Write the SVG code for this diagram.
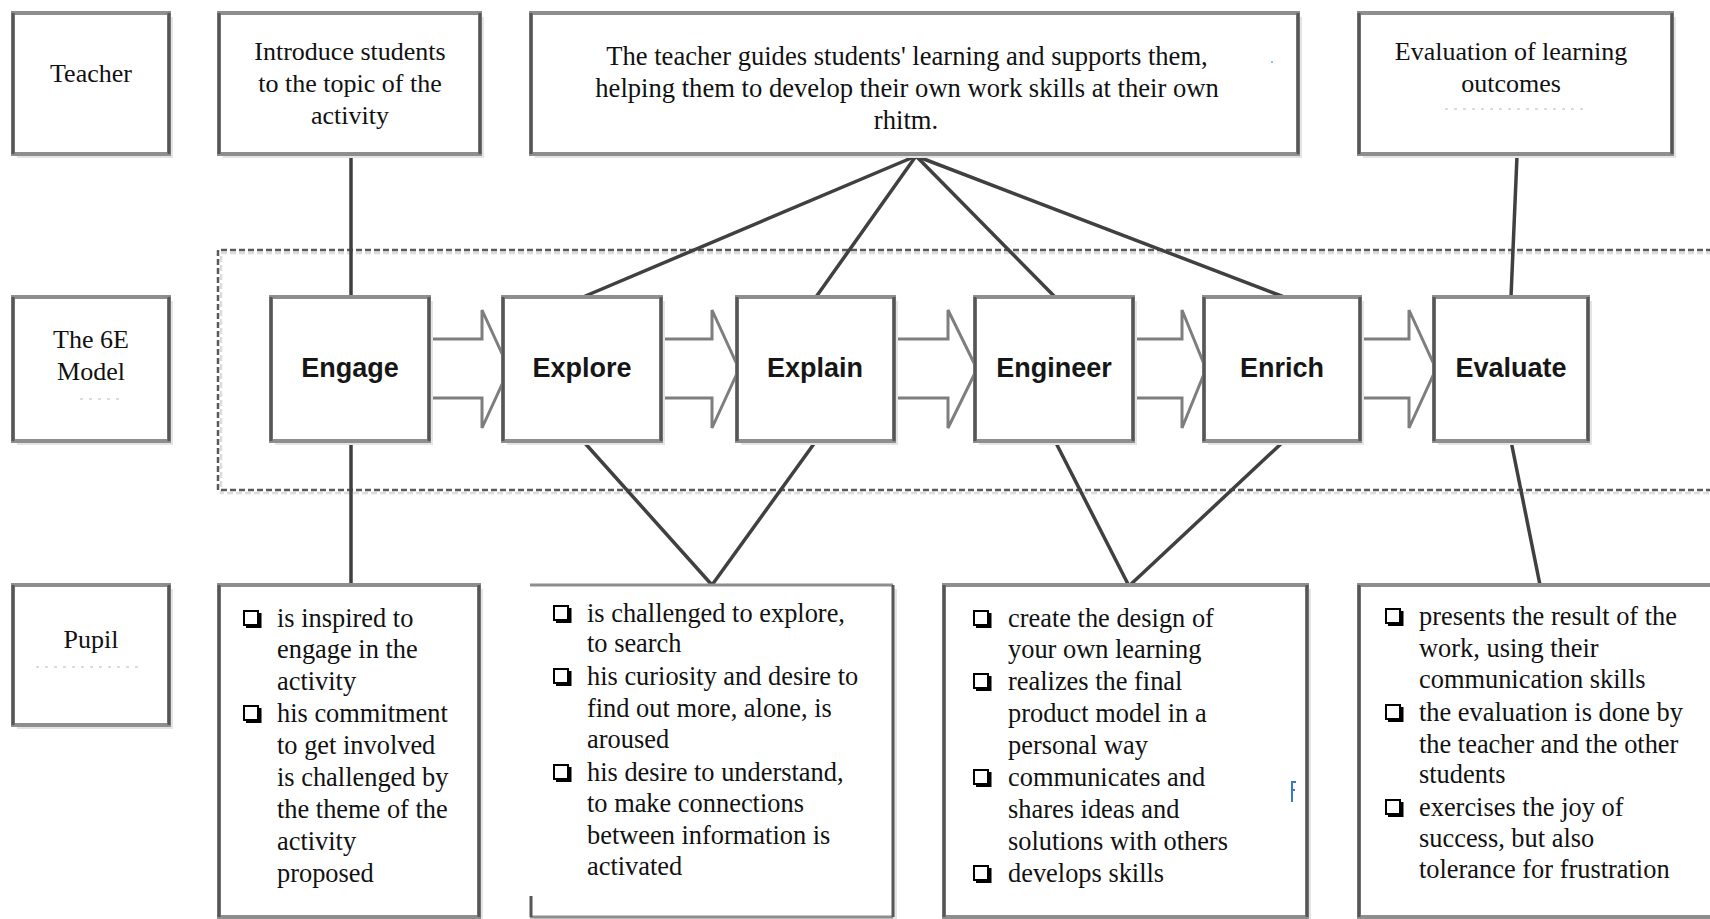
<svg xmlns="http://www.w3.org/2000/svg" width="1710" height="919" viewBox="0 0 1710 919">
  <style>
    .shadow { fill: #e4e4e4; }
    .box { fill: #ffffff; stroke: #8e8e8e; stroke-width: 4; }
    .side { stroke: #565656; stroke-width: 3; fill: none; }
    .txt { font-family: "Liberation Serif", "Times New Roman", serif; font-size: 26px; fill: #111; }
    .list { font-size: 26.4px; }
    .wide { font-size: 26.6px; }
    .mid { text-anchor: middle; }
    .stage { font-family: "Liberation Sans", Arial, sans-serif; font-weight: bold; font-size: 27px; fill: #161616; text-anchor: middle; }
    .link { stroke: #404040; stroke-width: 3.5; fill: none; stroke-linecap: butt; }
    .flow { fill: #ffffff; stroke: #7e7e7e; stroke-width: 3; stroke-linejoin: miter; }
    .frame { fill: none; stroke: #5a5a5a; stroke-width: 2.5; stroke-dasharray: 6 3; }
    .frame-shade { fill: none; stroke: #dcdcdc; stroke-width: 2.5; stroke-dasharray: 6 3; }
    .speck { stroke: #d9d0c6; stroke-width: 1.5; stroke-dasharray: 3 6; fill: none; }
  </style>
  <defs>
    <!-- square bullet with a heavier lower-right edge -->
    <symbol id="bullet" viewBox="0 0 19 18" width="19" height="18">
      <rect x="1" y="1" width="14" height="14" fill="none" stroke="#000" stroke-width="2"/>
      <path d="M17 3 V17 H3" fill="none" stroke="#000" stroke-width="3"/>
    </symbol>
  </defs>

  <rect width="1710" height="919" fill="#ffffff"/>

  <!-- dashed frame around the model stages -->
  <g id="model-frame">
    <path class="frame-shade" d="M1712 253 H221 V493 H1712"/>
    <path class="frame" d="M1712 250 H218 V490 H1712"/>
  </g>

  <!-- connectors -->
  <g id="connectors">
    <line class="link" x1="351" y1="156" x2="351" y2="297"/>
    <line class="link" x1="351" y1="441" x2="351" y2="585"/>
    <line class="link" x1="916" y1="156" x2="583" y2="297"/>
    <line class="link" x1="916" y1="156" x2="816" y2="297"/>
    <line class="link" x1="916" y1="156" x2="1055" y2="297"/>
    <line class="link" x1="916" y1="156" x2="1284" y2="297"/>
    <line class="link" x1="1517" y1="156" x2="1511" y2="297"/>
    <line class="link" x1="583" y1="441" x2="712" y2="585"/>
    <line class="link" x1="816" y1="441" x2="712" y2="585"/>
    <line class="link" x1="1055" y1="441" x2="1129" y2="586"/>
    <line class="link" x1="1284" y1="441" x2="1129" y2="586"/>
    <line class="link" x1="1511" y1="441" x2="1540" y2="585"/>
    <!-- block arrows between stages -->
    <path class="flow" d="M429 339 H482 V310 L509 369 L482 428 V398 H429"/>
    <path class="flow" d="M661 339 H712 V310 L739 369 L712 428 V398 H661"/>
    <path class="flow" d="M894 339 H948 V310 L977 369 L948 428 V398 H894"/>
    <path class="flow" d="M1133 339 H1182 V310 L1206 369 L1182 428 V398 H1133"/>
    <path class="flow" d="M1360 339 H1409 V310 L1436 369 L1409 428 V398 H1360"/>
  </g>

  <!-- row labels -->
  <g id="teacher-label">
    <rect class="shadow" x="17" y="17" width="156" height="141"/>
    <rect class="box" x="13" y="13" width="156" height="141"/>
    <path class="side" d="M13 13 V154 M169 13 V154"/>
    <text class="txt mid" x="91" y="82">Teacher</text>
  </g>
  <g id="model-label">
    <rect class="shadow" x="17" y="301" width="156" height="144"/>
    <rect class="box" x="13" y="297" width="156" height="144"/>
    <path class="side" d="M13 297 V441 M169 297 V441"/>
    <text class="txt mid" x="91" y="348">The 6E</text>
    <text class="txt mid" x="91" y="380">Model</text>
    <path class="speck" d="M80 399 H123"/>
  </g>
  <g id="pupil-label">
    <rect class="shadow" x="17" y="589" width="156" height="140"/>
    <rect class="box" x="13" y="585" width="156" height="140"/>
    <path class="side" d="M13 585 V725 M169 585 V725"/>
    <text class="txt mid" x="91" y="648">Pupil</text>
    <path class="speck" d="M36 667 H141"/>
  </g>

  <!-- teacher row -->
  <g id="teacher-introduce">
    <rect class="shadow" x="223" y="17" width="261" height="141"/>
    <rect class="box" x="219" y="13" width="261" height="141"/>
    <path class="side" d="M219 13 V154 M480 13 V154"/>
    <text class="txt mid" x="350" y="60">Introduce students</text>
    <text class="txt mid" x="350" y="92">to the topic of the</text>
    <text class="txt mid" x="350" y="124">activity</text>
  </g>
  <g id="teacher-guides">
    <rect class="shadow" x="535" y="17" width="767" height="141"/>
    <rect class="box" x="531" y="13" width="767" height="141"/>
    <path class="side" d="M531 13 V154 M1298 13 V154"/>
    <text class="txt wide mid" x="907" y="65">The teacher guides students' learning and supports them,</text>
    <text class="txt wide mid" x="907" y="97">helping them to develop their own work skills at their own</text>
    <text class="txt wide mid" x="906" y="129">rhitm.</text>
    <rect x="1271" y="61" width="2" height="2" fill="#8cc4ee"/>
  </g>
  <g id="teacher-evaluation">
    <rect class="shadow" x="1363" y="17" width="313" height="141"/>
    <rect class="box" x="1359" y="13" width="313" height="141"/>
    <path class="side" d="M1359 13 V154 M1672 13 V154"/>
    <text class="txt mid" x="1511" y="60">Evaluation of learning</text>
    <text class="txt mid" x="1511" y="92">outcomes</text>
    <path class="speck" d="M1445 109 H1585"/>
  </g>

  <!-- model stages -->
  <g id="stage-engage">
    <rect class="shadow" x="275" y="301" width="158" height="144"/>
    <rect class="box" x="271" y="297" width="158" height="144"/>
    <path class="side" d="M271 297 V441 M429 297 V441"/>
    <text class="stage" x="350" y="377">Engage</text>
  </g>
  <g id="stage-explore">
    <rect class="shadow" x="507" y="301" width="158" height="144"/>
    <rect class="box" x="503" y="297" width="158" height="144"/>
    <path class="side" d="M503 297 V441 M661 297 V441"/>
    <text class="stage" x="582" y="377">Explore</text>
  </g>
  <g id="stage-explain">
    <rect class="shadow" x="741" y="301" width="157" height="144"/>
    <rect class="box" x="737" y="297" width="157" height="144"/>
    <path class="side" d="M737 297 V441 M894 297 V441"/>
    <text class="stage" x="815" y="377">Explain</text>
  </g>
  <g id="stage-engineer">
    <rect class="shadow" x="979" y="301" width="158" height="144"/>
    <rect class="box" x="975" y="297" width="158" height="144"/>
    <path class="side" d="M975 297 V441 M1133 297 V441"/>
    <text class="stage" x="1054" y="377">Engineer</text>
  </g>
  <g id="stage-enrich">
    <rect class="shadow" x="1208" y="301" width="156" height="144"/>
    <rect class="box" x="1204" y="297" width="156" height="144"/>
    <path class="side" d="M1204 297 V441 M1360 297 V441"/>
    <text class="stage" x="1282" y="377">Enrich</text>
  </g>
  <g id="stage-evaluate">
    <rect class="shadow" x="1438" y="301" width="154" height="144"/>
    <rect class="box" x="1434" y="297" width="154" height="144"/>
    <path class="side" d="M1434 297 V441 M1588 297 V441"/>
    <text class="stage" x="1511" y="377">Evaluate</text>
  </g>

  <!-- pupil row -->
  <g id="pupil-engage">
    <rect class="shadow" x="223" y="589" width="260" height="340"/>
    <rect class="box" x="219" y="585" width="260" height="332"/>
    <path class="side" d="M219 585 V917 M479 585 V917"/>
    <use href="#bullet" x="243" y="610"/>
    <use href="#bullet" x="243" y="705"/>
    <text class="txt list">
      <tspan x="277" y="627">is inspired to</tspan>
      <tspan x="277" y="658">engage in the</tspan>
      <tspan x="277" y="690">activity</tspan>
      <tspan x="277" y="722">his commitment</tspan>
      <tspan x="277" y="754">to get involved</tspan>
      <tspan x="277" y="786">is challenged by</tspan>
      <tspan x="277" y="818">the theme of the</tspan>
      <tspan x="277" y="850">activity</tspan>
      <tspan x="277" y="882">proposed</tspan>
    </text>
  </g>
  <g id="pupil-explore">
    <path class="shadow" d="M534 589 H897 V929 H534 Z"/>
    <rect x="531" y="585" width="362" height="332" fill="#ffffff"/>
    <path d="M530 585 H893 M530 917 H893" stroke="#8e8e8e" stroke-width="3" fill="none"/>
    <path class="side" d="M893 585 V917 M531 896 V917"/>
    <use href="#bullet" x="553" y="605"/>
    <use href="#bullet" x="553" y="668"/>
    <use href="#bullet" x="553" y="764"/>
    <text class="txt list">
      <tspan x="587" y="622">is challenged to explore,</tspan>
      <tspan x="587" y="652">to search</tspan>
      <tspan x="587" y="685">his curiosity and desire to</tspan>
      <tspan x="587" y="717">find out more, alone, is</tspan>
      <tspan x="587" y="748">aroused</tspan>
      <tspan x="587" y="781">his desire to understand,</tspan>
      <tspan x="587" y="812">to make connections</tspan>
      <tspan x="587" y="844">between information is</tspan>
      <tspan x="587" y="875">activated</tspan>
    </text>
  </g>
  <g id="pupil-engineer">
    <rect class="shadow" x="948" y="589" width="363" height="340"/>
    <rect class="box" x="944" y="585" width="363" height="332"/>
    <path class="side" d="M944 585 V917 M1307 585 V917"/>
    <use href="#bullet" x="973" y="610"/>
    <use href="#bullet" x="973" y="673"/>
    <use href="#bullet" x="973" y="769"/>
    <use href="#bullet" x="973" y="865"/>
    <text class="txt list">
      <tspan x="1008" y="627">create the design of</tspan>
      <tspan x="1008" y="658">your own learning</tspan>
      <tspan x="1008" y="690">realizes the final</tspan>
      <tspan x="1008" y="722">product model in a</tspan>
      <tspan x="1008" y="754">personal way</tspan>
      <tspan x="1008" y="786">communicates and</tspan>
      <tspan x="1008" y="818">shares ideas and</tspan>
      <tspan x="1008" y="850">solutions with others</tspan>
      <tspan x="1008" y="882">develops skills</tspan>
    </text>
    <path d="M1292 781 V802 M1292 782 H1296 M1292 790 H1295" stroke="#3a78c8" stroke-width="2" fill="none"/>
  </g>
  <g id="pupil-evaluate">
    <rect class="shadow" x="1363" y="589" width="400" height="340"/>
    <rect class="box" x="1359" y="585" width="400" height="332"/>
    <path class="side" d="M1359 585 V917"/>
    <use href="#bullet" x="1385" y="608"/>
    <use href="#bullet" x="1385" y="704"/>
    <use href="#bullet" x="1385" y="799"/>
    <text class="txt list">
      <tspan x="1419" y="625">presents the result of the</tspan>
      <tspan x="1419" y="657">work, using their</tspan>
      <tspan x="1419" y="688">communication skills</tspan>
      <tspan x="1419" y="721">the evaluation is done by</tspan>
      <tspan x="1419" y="753">the teacher and the other</tspan>
      <tspan x="1419" y="783">students</tspan>
      <tspan x="1419" y="816">exercises the joy of</tspan>
      <tspan x="1419" y="847">success, but also</tspan>
      <tspan x="1419" y="878">tolerance for frustration</tspan>
    </text>
  </g>
</svg>
